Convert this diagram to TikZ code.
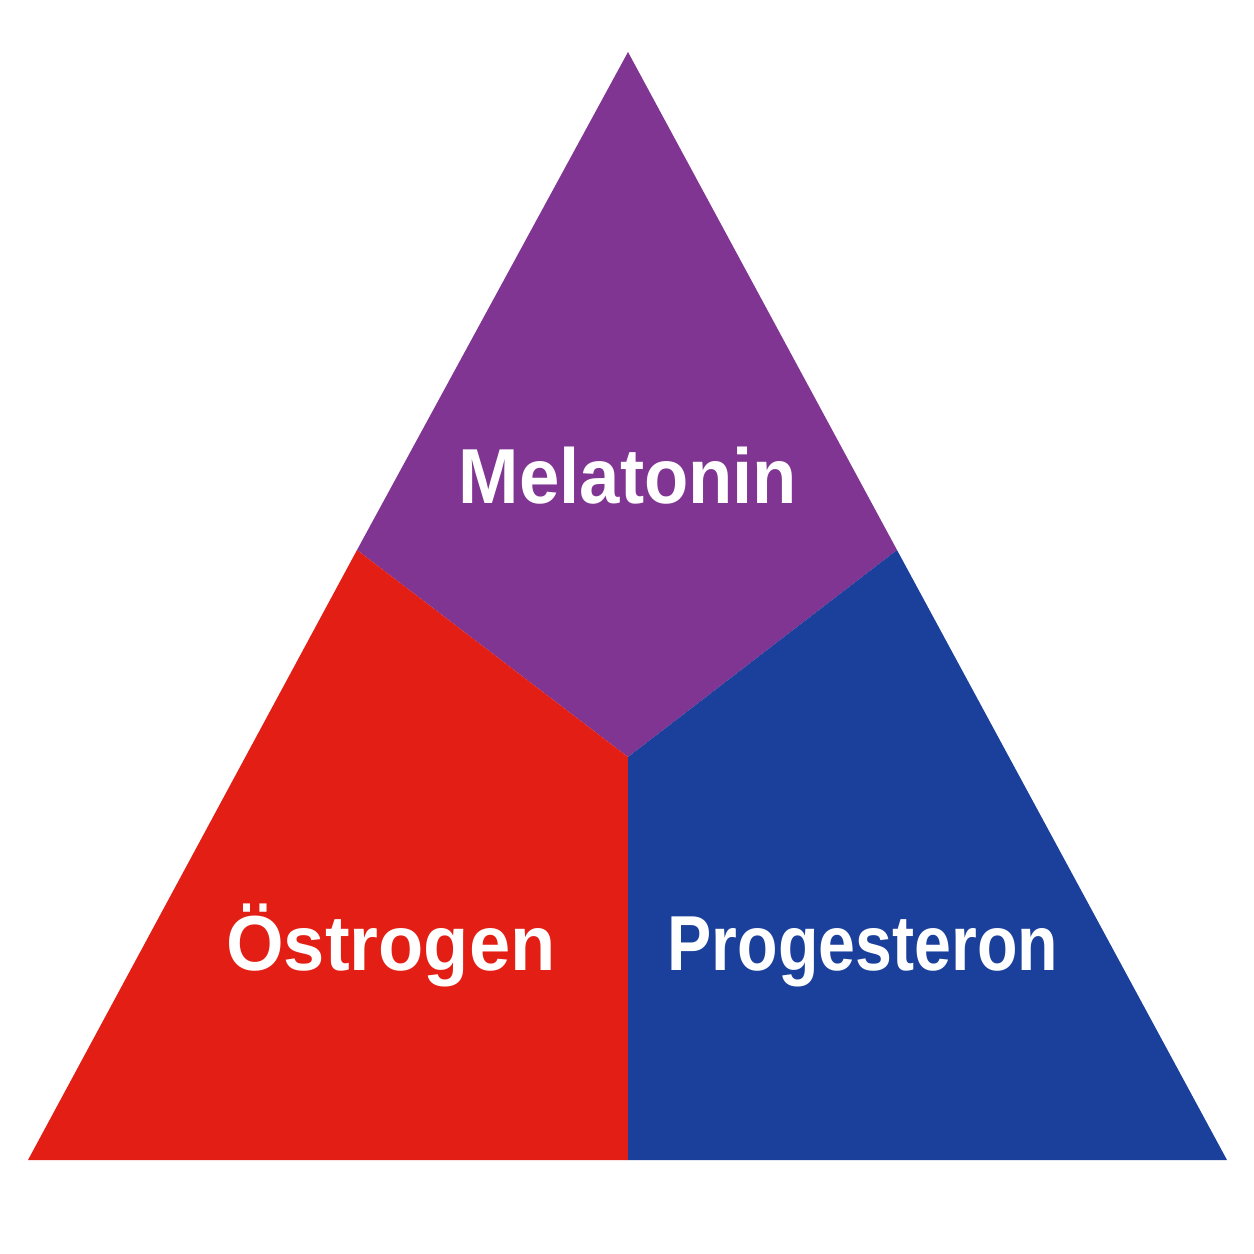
\documentclass[tikz,border=0pt]{standalone}
\usepackage{fontspec}
\setmainfont{Liberation Sans}
\definecolor{tpurple}{HTML}{813593}
\definecolor{tred}{HTML}{E31E14}
\definecolor{tblue}{HTML}{1B409C}
\begin{document}
\begin{tikzpicture}[x=1pt,y=-1pt,
  lbl/.style={text=white,font=\fontsize{78}{80}\selectfont\bfseries,anchor=base,inner sep=0pt}]
\useasboundingbox[fill=white] (0,0) rectangle (1254,1254);
\coordinate (A) at (628,52);
\coordinate (L) at (28,1160);
\coordinate (R) at (1227,1160);
\coordinate (ML) at (357,550);
\coordinate (MR) at (897,550);
\coordinate (C) at (628,757);
\coordinate (B) at (628,1160);
\fill[tpurple] (A) -- (MR) -- (C) -- (ML) -- cycle;
\fill[tred] (ML) -- (C) -- (B) -- (L) -- cycle;
\fill[tblue] (MR) -- (R) -- (B) -- (C) -- cycle;
\node[lbl] (mel) at (628,503) {\scalebox{0.93}[1]{Melatonin}};
\node[lbl] (oes) at (391,970) {\scalebox{0.95}[1]{Östrogen}};
\node[lbl] (pro) at (863,970) {\scalebox{0.85}[1]{Progesteron}};
\end{tikzpicture}
\end{document}
